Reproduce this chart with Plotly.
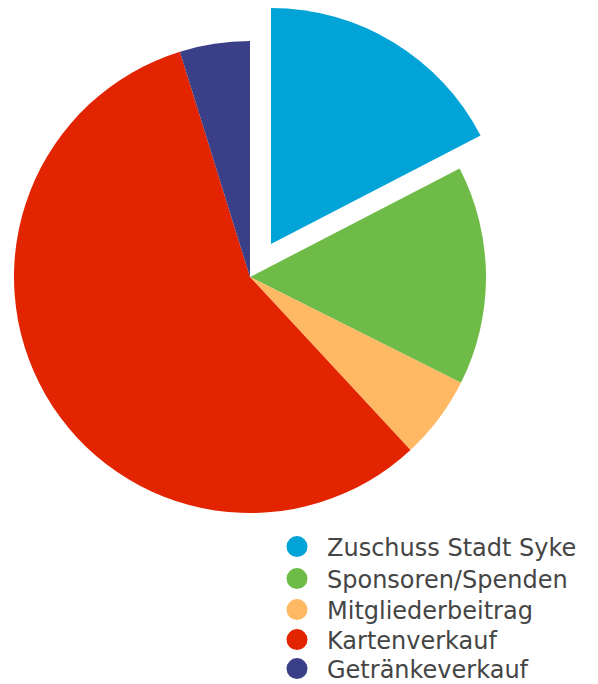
import math
import plotly.graph_objects as go

categories = ["Zuschuss Stadt Syke", "Sponsoren/Spenden", "Mitgliederbeitrag",
              "Kartenverkauf", "Getränkeverkauf"]
values = [17.4, 15.0, 5.7, 57.1, 4.8]
sliced = [True, False, False, False, False]
colors = ["#02A3D7", "#6EBC47", "#FFB964", "#E22400", "#3A3F88"]

# figure geometry (page body has an 8px margin)
W, H = 590, 676
CX, CY, R = 242, 269, 236       # pie centre / radius in figure pixels
PULL = 0.171                     # sliced offset as fraction of radius

def dom(cx, cy, r):
    x0, x1 = max(cx - r, 0), min(cx + r, W)
    y0, y1 = max(cy - r, 0), min(cy + r, H)
    return dict(x=[x0 / W, x1 / W], y=[1 - y1 / H, 1 - y0 / H])

total = sum(values)
fig = go.Figure()

# main pie (sliced points left transparent)
fig.add_trace(go.Pie(
    labels=categories, values=values, sort=False,
    direction="clockwise", rotation=0,
    marker=dict(colors=[("rgba(0,0,0,0)" if s else c) for s, c in zip(sliced, colors)],
                line=dict(width=0)),
    textinfo="none", showlegend=False, domain=dom(CX, CY, R),
))

# sliced points, drawn on an offset copy of the pie
start = 0.0
for v, s, c, name in zip(values, sliced, colors, categories):
    if s:
        mid = math.radians((start + v / 2) / total * 360)
        ox, oy = PULL * R * math.sin(mid), -PULL * R * math.cos(mid)
        cy2 = max(CY + oy, R)
        fig.add_trace(go.Pie(
            labels=[name, "rest"], values=[v, total - v], sort=False,
            direction="clockwise", rotation=start / total * 360,
            marker=dict(colors=[c, "rgba(0,0,0,0)"], line=dict(width=0)),
            textinfo="none", showlegend=False, hoverinfo="skip",
            domain=dom(CX + ox, cy2, R),
        ))
    start += v

rows_y = [539, 571, 602, 632, 661]
legend_x = 259
for i, (name, c) in enumerate(zip(categories, colors)):
    fig.add_trace(go.Scatter(
        x=[None], y=[None], mode="markers", name=name,
        legend="legend" if i == 0 else f"legend{i + 1}",
        marker=dict(symbol="circle", size=16, color=c, line=dict(width=5, color=c)),
    ))

layout = dict(
    width=W, height=H,
    margin=dict(l=0, r=0, t=0, b=0, autoexpand=False),
    paper_bgcolor="white", plot_bgcolor="white",
    xaxis=dict(visible=False), yaxis=dict(visible=False),
    showlegend=True,
)
for i, ry in enumerate(rows_y):
    key = "legend" if i == 0 else f"legend{i + 1}"
    layout[key] = dict(
        x=legend_x / W, y=1 - ry / H, xanchor="left", yanchor="middle",
        font=dict(family="DejaVu Sans", size=24, color="#454545"),
        itemsizing="trace", itemwidth=50, bgcolor="rgba(0,0,0,0)",
    )
fig.update_layout(**layout)

fig.write_html("out.html")
